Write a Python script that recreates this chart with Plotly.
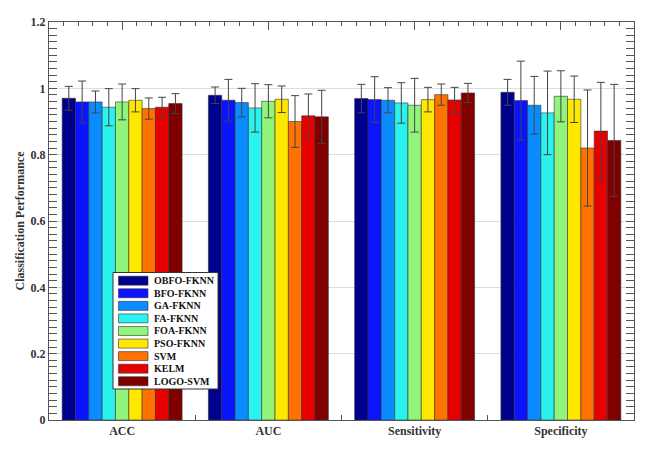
import plotly.graph_objects as go

categories = ["ACC", "AUC", "Sensitivity", "Specificity"]
methods = ["OBFO-FKNN", "BFO-FKNN", "GA-FKNN", "FA-FKNN", "FOA-FKNN",
           "PSO-FKNN", "SVM", "KELM", "LOGO-SVM"]
colors = ["#00008f", "#0a14ff", "#0a8cff", "#2af2ee", "#90f57a",
          "#ffe800", "#ff7200", "#e80000", "#800000"]

# mean values per method for [ACC, AUC, Sensitivity, Specificity]
means = {
    "OBFO-FKNN": [0.970, 0.979, 0.969, 0.988],
    "BFO-FKNN":  [0.959, 0.964, 0.966, 0.963],
    "GA-FKNN":   [0.959, 0.957, 0.964, 0.949],
    "FA-FKNN":   [0.943, 0.941, 0.956, 0.926],
    "FOA-FKNN":  [0.959, 0.961, 0.949, 0.976],
    "PSO-FKNN":  [0.964, 0.967, 0.966, 0.967],
    "SVM":       [0.939, 0.900, 0.981, 0.820],
    "KELM":      [0.943, 0.917, 0.965, 0.871],
    "LOGO-SVM":  [0.954, 0.914, 0.986, 0.843],
}
# standard deviations
stds = {
    "OBFO-FKNN": [0.036, 0.025, 0.043, 0.039],
    "BFO-FKNN":  [0.063, 0.063, 0.069, 0.119],
    "GA-FKNN":   [0.033, 0.043, 0.038, 0.087],
    "FA-FKNN":   [0.056, 0.073, 0.061, 0.126],
    "FOA-FKNN":  [0.054, 0.050, 0.081, 0.077],
    "PSO-FKNN":  [0.035, 0.040, 0.037, 0.070],
    "SVM":       [0.032, 0.078, 0.032, 0.175],
    "KELM":      [0.030, 0.066, 0.038, 0.147],
    "LOGO-SVM":  [0.030, 0.080, 0.029, 0.169],
}

y_ticks = [0, 0.2, 0.4, 0.6, 0.8, 1.0, 1.2]
y_tick_labels = ["0", "0.2", "0.4", "0.6", "0.8", "1", "1.2"]

serif = "Liberation Serif, Times New Roman, serif"
axis_col = "#555555"
xpos = list(range(len(categories)))

# page body has an 8px margin; size the figure so the plot area lands
# where the reference has it (x 49..634, y 22..420 in window pixels)
OFF = 8
W, H = 649, 445
ML, MR, MT, MB = 41, 23, 14, 33
PW, PH = W - ML - MR, H - MT - MB

def px(xp):
    return (xp - OFF - ML) / PW

def py(yp):
    return (H - MB - (yp - OFF)) / PH

fig = go.Figure()
for m, c in zip(methods, colors):
    fig.add_trace(go.Bar(
        x=xpos, y=means[m], name=m, showlegend=False,
        marker=dict(color=c, line=dict(color="#333333", width=0.6)),
        error_y=dict(type="data", array=stds[m], color="#444444",
                     thickness=1, width=4),
    ))

# invisible traces for top / boundary tick axes
fig.add_trace(go.Scatter(x=[-0.5, 3.5], y=[0, 0], xaxis="x2", mode="none",
                         showlegend=False, hoverinfo="skip"))
fig.add_trace(go.Scatter(x=[-0.5, 3.5], y=[0, 0], xaxis="x3", mode="none",
                         showlegend=False, hoverinfo="skip"))

# legend (drawn manually for wide MATLAB-style swatches)
shapes = [dict(type="rect", xref="paper", yref="paper", layer="above",
               x0=px(113), x1=px(218), y0=py(389), y1=py(272.5),
               fillcolor="white", line=dict(color="#333333", width=1))]
annotations = []
for i, (m, c) in enumerate(zip(methods, colors)):
    yc = 280.7 + i * 12.57
    shapes.append(dict(type="rect", xref="paper", yref="paper", layer="above",
                       x0=px(118.5), x1=px(148), y0=py(yc + 4.5), y1=py(yc - 4.5),
                       fillcolor=c, line=dict(color="#333333", width=0.6)))
    annotations.append(dict(xref="paper", yref="paper", x=px(151.5), y=py(yc),
                            xanchor="left", yanchor="middle", showarrow=False,
                            text="<b>%s</b>" % m,
                            font=dict(family=serif, size=10, color="#111111")))

fig.update_layout(
    width=W, height=H,
    margin=dict(l=ML, r=MR, t=MT, b=MB, autoexpand=False),
    paper_bgcolor="white", plot_bgcolor="white",
    barmode="group", bargap=0.18, bargroupgap=0,
    font=dict(family=serif, color="#222222"),
    showlegend=False,
    shapes=shapes, annotations=annotations,
    xaxis=dict(
        range=[-0.5, 3.5], tickmode="array", tickvals=xpos,
        ticktext=["<b>%s</b>" % c for c in categories],
        ticks="", showgrid=False, zeroline=False, automargin=False,
        showline=True, linecolor=axis_col, linewidth=1, mirror=True,
        tickfont=dict(family=serif, size=12, color="#333333"),
    ),
    xaxis2=dict(
        overlaying="x", side="top", range=[-0.5, 3.5], automargin=False,
        tickmode="array", tickvals=xpos, showticklabels=False,
        ticks="inside", ticklen=8, tickcolor=axis_col, showgrid=False,
        zeroline=False, showline=False,
        minor=dict(ticks="inside", dtick=0.1, tick0=-0.5, ticklen=4,
                   tickcolor=axis_col, showgrid=False),
    ),
    xaxis3=dict(
        overlaying="x", side="bottom", range=[-0.5, 3.5], automargin=False,
        tickmode="array", tickvals=[0.5, 1.5, 2.5], showticklabels=False,
        ticks="inside", ticklen=5, tickcolor=axis_col, showgrid=False,
        zeroline=False, showline=False,
    ),
    yaxis=dict(
        range=[0, 1.2], tickmode="array", tickvals=y_ticks, automargin=False,
        ticktext=["<b>%s</b>" % t for t in y_tick_labels],
        ticks="inside", ticklen=8, tickcolor=axis_col,
        showgrid=True, gridcolor="#dddddd", gridwidth=1, zeroline=False,
        showline=True, linecolor=axis_col, linewidth=1, mirror="allticks",
        minor=dict(ticks="inside", dtick=0.02, ticklen=4, tickcolor=axis_col,
                   showgrid=False),
        tickfont=dict(family=serif, size=12, color="#333333"),
        title=dict(text="<b>Classification Performance</b>",
                   font=dict(family=serif, size=12, color="#333333"),
                   standoff=3),
    ),
)

fig.write_html("out.html")
